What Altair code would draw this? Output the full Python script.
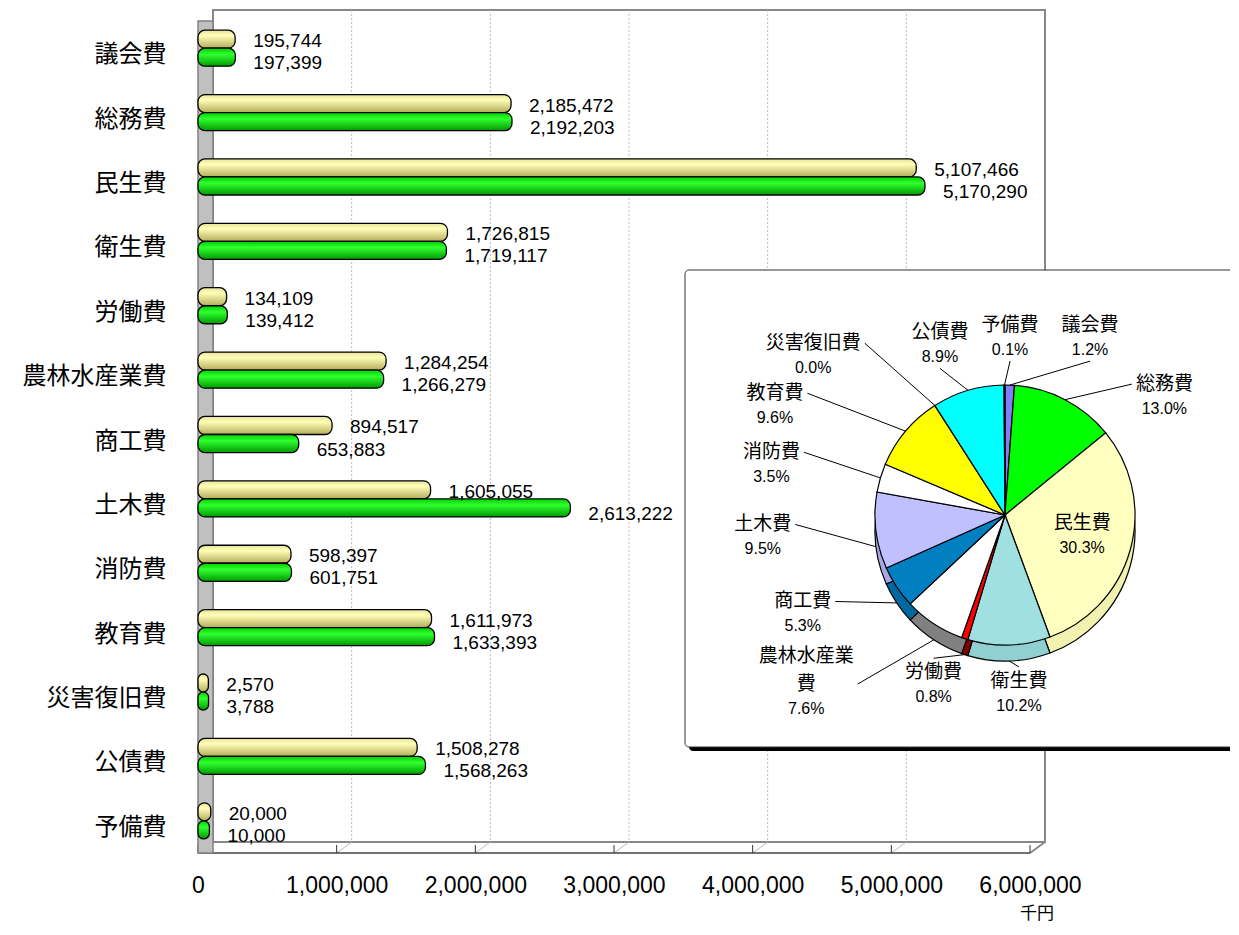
import altair as alt
import pandas as pd

# ---------------- data ----------------
categories = ["議会費", "総務費", "民生費", "衛生費", "労働費", "農林水産業費", "商工費",
              "土木費", "消防費", "教育費", "災害復旧費", "公債費", "予備費"]
values_upper = [195744, 2185472, 5107466, 1726815, 134109, 1284254, 894517,
                1605055, 598397, 1611973, 2570, 1508278, 20000]          # yellow bars
values_lower = [197399, 2192203, 5170290, 1719117, 139412, 1266279, 653883,
                2613222, 601751, 1633393, 3788, 1568263, 10000]          # green bars
pie_names = ["議会費", "総務費", "民生費", "衛生費", "労働費", "農林水産業\n費", "商工費",
             "土木費", "消防費", "教育費", "災害復旧費", "公債費", "予備費"]
pie_pct = ["1.2%", "13.0%", "30.3%", "10.2%", "0.8%", "7.6%", "5.3%",
           "9.5%", "3.5%", "9.6%", "0.0%", "8.9%", "0.1%"]
pie_colors = ["#8080FF", "#00FF00", "#FFFFC0", "#A0E0E0", "#FF0000", "#FFFFFF", "#0080C0",
              "#C0C0FF", "#FFFFFF", "#FFFF00", "#FF8080", "#00FFFF", "#993366"]
pie_side_colors = ["#6060C0", "#00B000", "#F2F2B0", "#90D0D0", "#800000", "#808080", "#0068A0",
                   "#A8A8E8", "#D0D0D0", "#C8C800", "#C06060", "#00C0C0", "#662244"]
x_ticks = [0, 1000000, 2000000, 3000000, 4000000, 5000000, 6000000]
unit_label = "千円"

# label nudges (pixels) for crowded pie labels
pie_nudge = {"議会費": (70, 0), "総務費": (38, 39), "民生費": (-170, -27),
             "農林水産業費": (-68, 32), "教育費": (-45, 5), "災害復旧費": (-63, -10)}

FONT = "Noto Sans CJK JP"
NUM_FONT = "Liberation Sans"
OX, OY = 198, 16          # page position of plot origin
W, H = 832, 837

bars_df = pd.DataFrame(
    [{"cat": c, "series": "A", "value": v} for c, v in zip(categories, values_upper)]
    + [{"cat": c, "series": "B", "value": v} for c, v in zip(categories, values_lower)]
)
tick_df = pd.DataFrame({"value": x_ticks})
inner_ticks = pd.DataFrame({"value": x_ticks[1:-1]})
one = pd.DataFrame({"d": [0]})

NAME_FS = 19
LINE_H = 28
pie_df = pd.DataFrame({
    "idx": list(range(len(categories))),
    "cat": categories,
    "name": pie_names,
    "pct": pie_pct,
    "v": values_upper,
    "col": pie_colors,
    "side": pie_side_colors,
    "ndx": [pie_nudge.get(c, (0, 0))[0] for c in categories],
    "ndy": [pie_nudge.get(c, (0, 0))[1] for c in categories],
    "nl": [n.count("\n") + 1 for n in pie_names],
    "hw": [max(len(s) for s in n.split("\n")) * NAME_FS / 2 for n in pie_names],
})

# ---------------- shared encodings ----------------
x_scale = alt.Scale(domain=[0, 6000000], nice=False, zero=True)
x_axis = alt.Axis(values=x_ticks, labelExpr="format(datum.value, ',')", labelFontSize=23,
                  labelFont=NUM_FONT, labelColor="black", labelPadding=21, domain=False,
                  ticks=False, grid=False, labelFlush=False)
x_enc = alt.X("value:Q", title="", scale=x_scale, axis=x_axis)
x_bar = alt.X("value:Q", title="", scale=x_scale, axis=x_axis, stack=None)
y_enc = alt.Y(
    "cat:N",
    title="",
    sort=categories,
    scale=alt.Scale(domain=categories, paddingInner=0.44, paddingOuter=0.22),
    axis=alt.Axis(labelFontSize=24, labelFont=FONT, labelColor="black", labelPadding=32,
                  labelOffset=7, domain=False, ticks=False, grid=False),
)
yoff_enc = alt.YOffset("series:N", scale=alt.Scale(domain=["A", "B"], paddingInner=0, paddingOuter=0))

# ---------------- 3D frame decorations ----------------
back_wall = alt.Chart(one).mark_rect(fill="white", stroke="#888888", strokeWidth=2).encode(
    x=alt.value(15), x2=alt.value(W + 15), y=alt.value(-6), y2=alt.value(H - 11))
grid = alt.Chart(inner_ticks).mark_rule(xOffset=15, color="#BBBBBB", strokeDash=[2, 2], strokeWidth=1).encode(
    x=x_enc, y=alt.value(-6), y2=alt.value(H - 11))
floor_diag = alt.Chart(inner_ticks).mark_rule(x2Offset=15, color="#BBBBBB", strokeWidth=1).encode(
    x=x_enc, x2="value:Q", y=alt.value(H), y2=alt.value(H - 11))
front_ticks = alt.Chart(tick_df).mark_rule(color="#333333", strokeWidth=1).encode(
    x=x_enc, y=alt.value(H - 8), y2=alt.value(H))
floor_front = alt.Chart(one).mark_rule(color="#444444", strokeWidth=1.5).encode(
    x=alt.value(0), x2=alt.value(W), y=alt.value(H))
floor_right = alt.Chart(one).mark_rule(color="#888888", strokeWidth=2).encode(
    x=alt.value(W), x2=alt.value(W + 15), y=alt.value(H), y2=alt.value(H - 11))
left_wall = alt.Chart(one).mark_rect(fill="#C0C0C0", stroke="#808080", strokeWidth=1.5).encode(
    x=alt.value(0), x2=alt.value(15), y=alt.value(5), y2=alt.value(H))

# ---------------- bars ----------------
grad_a = alt.Gradient(gradient="linear", x1=0, x2=0, y1=0, y2=1, stops=[
    alt.GradientStop(color="#E6E29A", offset=0),
    alt.GradientStop(color="#FFFFB8", offset=0.3),
    alt.GradientStop(color="#B4AC5A", offset=1)])
grad_b = alt.Gradient(gradient="linear", x1=0, x2=0, y1=0, y2=1, stops=[
    alt.GradientStop(color="#00D000", offset=0),
    alt.GradientStop(color="#30FF30", offset=0.35),
    alt.GradientStop(color="#009A00", offset=1)])

bars_a = alt.Chart(bars_df).transform_filter("datum.series == 'A'").mark_bar(
    fill=grad_a, stroke="black", strokeWidth=1.3, cornerRadius=7, xOffset=10, x2Offset=5
).encode(x=x_bar, y=y_enc, yOffset=yoff_enc)
bars_b = alt.Chart(bars_df).transform_filter("datum.series == 'B'").mark_bar(
    fill=grad_b, stroke="black", strokeWidth=1.3, cornerRadius=7, xOffset=10, x2Offset=5
).encode(x=x_bar, y=y_enc, yOffset=yoff_enc)

value_text_a = alt.Chart(bars_df).transform_filter("datum.series == 'A'").mark_text(
    align="left", baseline="middle", dx=28, dy=2, fontSize=19, font=NUM_FONT, color="black"
).encode(x=x_enc, y=y_enc, yOffset=yoff_enc, text=alt.Text("value:Q", format=","))
value_text_b = alt.Chart(bars_df).transform_filter("datum.series == 'B'").mark_text(
    align="left", baseline="middle", dx=28, dy=6, fontSize=19, font=NUM_FONT, color="black"
).encode(x=x_enc, y=y_enc, yOffset=yoff_enc, text=alt.Text("value:Q", format=","))

unit_text = alt.Chart(one).mark_text(fontSize=17, font=FONT, color="black", baseline="bottom").encode(
    x=alt.value(1037 - OX), y=alt.value(923 - OY), text=alt.value(unit_label))

# ---------------- inset pie ----------------
box_shadow = alt.Chart(one).mark_rect(fill="black", cornerRadius=4).encode(
    x=alt.value(689 - OX), x2=alt.value(1262 - OX), y=alt.value(274 - OY), y2=alt.value(751 - OY))
box = alt.Chart(one).mark_rect(fill="white", stroke="#333333", strokeWidth=1, cornerRadius=4).encode(
    x=alt.value(685 - OX), x2=alt.value(1258 - OX), y=alt.value(270 - OY), y2=alt.value(747 - OY))

PCX, PCY, PR, DEPTH = 1005 - OX, 515 - OY, 130, 16
pie_side = alt.Chart(pie_df).mark_arc(radius=PR, stroke="black", strokeWidth=1.2).encode(
    theta=alt.Theta("v:Q", stack=True), order=alt.Order("idx:Q"),
    color=alt.Color("side:N", scale=None),
    x=alt.value(PCX), y=alt.value(PCY + DEPTH))
pie_top = alt.Chart(pie_df).mark_arc(radius=PR, stroke="black", strokeWidth=1.2).encode(
    theta=alt.Theta("v:Q", stack=True), order=alt.Order("idx:Q"),
    color=alt.Color("col:N", scale=None),
    x=alt.value(PCX), y=alt.value(PCY))

LCX, LCY, LRX, LRY = 1011 - OX, 515 - OY, 250, 178
lab_base = (alt.Chart(pie_df)
            .transform_joinaggregate(total="sum(v)")
            .transform_window(cum="sum(v)", sort=[alt.SortField("idx", order="ascending")], frame=[None, 0])
            .transform_calculate(ang="2*PI*(datum.cum - datum.v/2)/datum.total")
            .transform_calculate(s="sin(datum.ang)", c="cos(datum.ang)")
            .transform_calculate(lx=f"{LCX} + {LRX}*datum.s + datum.ndx",
                                 ly=f"{LCY} - {LRY}*datum.c + datum.ndy")
            .transform_calculate(nly=f"datum.ly - 2 - (datum.nl - 1)*{LINE_H}"))

leaders = (lab_base.transform_filter("datum.cat != '民生費'")
           .transform_calculate(
               ex=f"{PCX} + {PR}*datum.s",
               ey=f"{PCY} - {PR}*datum.c + (datum.c < 0 ? {DEPTH} : 0)",
               sx="abs(datum.s) < 0.45 ? datum.lx : datum.lx + (datum.s < 0 ? 1 : -1)*(datum.hw + 4)",
               sy=f"abs(datum.s) < 0.45 ? (datum.c > 0 ? datum.ly + 24 : datum.ly - 22 - {LINE_H}*(datum.nl - 1) - 4) : datum.ly - 12")
           .mark_rule(color="black", strokeWidth=1)
           .encode(x=alt.X("sx:Q", scale=None), x2="ex:Q",
                   y=alt.Y("sy:Q", scale=None), y2="ey:Q"))

pie_name_text = lab_base.mark_text(fontSize=NAME_FS, font=FONT, baseline="bottom", lineBreak="\n",
                                   lineHeight=LINE_H, color="black").encode(
    x=alt.X("lx:Q", scale=None), y=alt.Y("nly:Q", scale=None), text="name:N")
pie_pct_text = lab_base.mark_text(fontSize=16, font=NUM_FONT, baseline="top", dy=5, color="black").encode(
    x=alt.X("lx:Q", scale=None), y=alt.Y("ly:Q", scale=None), text="pct:N")

chart = alt.layer(
    back_wall, grid, floor_diag, floor_front, floor_right, front_ticks, left_wall,
    bars_a, bars_b, value_text_a, value_text_b, unit_text,
    box_shadow, box, pie_side, pie_top, leaders, pie_name_text, pie_pct_text,
).properties(
    width=W, height=H,
    autosize=alt.AutoSizeParams(type="none"),
    padding={"left": 190, "top": 8, "right": 200, "bottom": 72},
    background="white",
).configure_view(strokeWidth=0)

chart.save("out.html", embed_options={"renderer": "svg", "actions": False})
